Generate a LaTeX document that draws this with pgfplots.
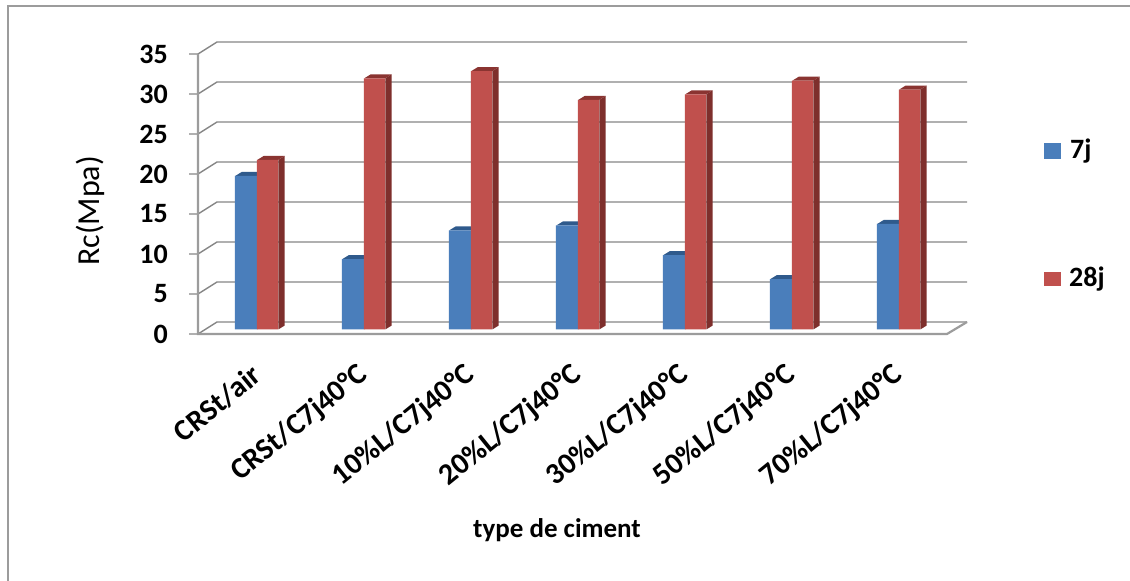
\documentclass[border=0pt]{standalone}
\usepackage{fontspec}
\setmainfont{Carlito}
\usepackage{pgfplots}
\pgfplotsset{compat=1.18}
\usepackage{pgfplotstable}

\definecolor{blueFront}{HTML}{4A7EBB}
\definecolor{blueTop}{HTML}{2F5A8C}
\definecolor{redFront}{HTML}{C0504D}
\definecolor{redSide}{HTML}{7E2F2C}
\definecolor{redTop}{HTML}{8A3431}
\definecolor{gridGrey}{HTML}{868686}
\definecolor{wallGrey}{HTML}{9C9C9C}

% Compressive strength per cement type
\pgfplotstableread{
pos   j7    j28
0.55  19.2  21.2
1.55  8.8   31.4
2.55  12.4  32.3
3.55  13.0  28.7
4.55  9.3   29.4
5.55  6.3   31.1
6.55  13.2  30.0
}\strength

% One horizontal level: tick, slanted run up the side wall, line along the back wall
\newcommand{\gridlevel}[1]{%
  \pgfmathsetmacro{\yfront}{#1-0.5625}%
  \pgfmathsetmacro{\yback}{#1+0.9375}%
  \addplot[gridGrey, line width=1.4pt] coordinates {(-0.084,\yfront) (0,\yfront) (0.1776,\yback) (7.187,\yback)};
}

% Depth faces of a bar: side and top, lying behind the front face
\newcommand{\bardepth}[5]{%
  \pgfmathsetmacro{\xa}{#1}%
  \pgfmathsetmacro{\xb}{#2}%
  \pgfmathsetmacro{\xc}{#2+0.0607}%
  \pgfmathsetmacro{\xd}{#1+0.0607}%
  \pgfmathsetmacro{\vt}{#3}%
  \pgfmathsetmacro{\vu}{#3+0.5}%
  \addplot[fill=#4, draw=none] coordinates {(\xb,0) (\xc,0.5) (\xc,\vu) (\xb,\vt)} -- cycle;
  \addplot[fill=#5, draw=none] coordinates {(\xa,\vt) (\xd,\vu) (\xc,\vu) (\xb,\vt)} -- cycle;
}

\begin{document}
\begin{tikzpicture}
\path[use as bounding box, fill=white] (0,0) rectangle (1130pt,581pt);
\draw[wallGrey, line width=2pt] (7.5pt,0) -- (7.5pt,575pt) -- (1130pt,575pt);

\begin{axis}[
  at={(198pt,251.5pt)}, anchor=south west,
  scale only axis, width=749pt, height=280pt,
  xmin=0, xmax=7, ymin=0, ymax=35,
  clip=false,
  axis line style={draw=none},
  major tick length=0pt,
  xtick={0.55,1.55,2.55,3.55,4.55,5.55,6.55},
  xticklabels={CRSt/air,CRSt/C7j40°C,10\%L/C7j40°C,20\%L/C7j40°C,30\%L/C7j40°C,50\%L/C7j40°C,70\%L/C7j40°C},
  x tick label style={rotate=39, anchor=east, font=\fontsize{30}{32}\selectfont\bfseries, xshift=-26pt, yshift=-32.6pt, inner sep=0pt},
  ytick={0,5,...,35},
  /pgf/number format/assume math mode=true,
  y tick label style={font=\fontsize{28}{30}\selectfont\bfseries, anchor=east, xshift=-30pt, yshift=-4.5pt, inner sep=0pt},
]
% Floor and walls
\gridlevel{0}\gridlevel{5}\gridlevel{10}\gridlevel{15}
\gridlevel{20}\gridlevel{25}\gridlevel{30}\gridlevel{35}
\addplot[wallGrey, line width=2.2pt] coordinates {(0,34.4375) (0,-0.5625) (7,-0.5625) (7.187,0.9375)};

% Depth faces, group by group
\bardepth{0.349}{0.554}{19.2}{blueTop}{blueTop}
\bardepth{0.554}{0.750}{21.2}{redSide}{redTop}
\bardepth{1.349}{1.554}{8.8}{blueTop}{blueTop}
\bardepth{1.554}{1.750}{31.4}{redSide}{redTop}
\bardepth{2.349}{2.554}{12.4}{blueTop}{blueTop}
\bardepth{2.554}{2.750}{32.3}{redSide}{redTop}
\bardepth{3.349}{3.554}{13.0}{blueTop}{blueTop}
\bardepth{3.554}{3.750}{28.7}{redSide}{redTop}
\bardepth{4.349}{4.554}{9.3}{blueTop}{blueTop}
\bardepth{4.554}{4.750}{29.4}{redSide}{redTop}
\bardepth{5.349}{5.554}{6.3}{blueTop}{blueTop}
\bardepth{5.554}{5.750}{31.1}{redSide}{redTop}
\bardepth{6.349}{6.554}{13.2}{blueTop}{blueTop}
\bardepth{6.554}{6.750}{30.0}{redSide}{redTop}

% Front faces
\addplot[ybar, bar width=21.9pt, bar shift=-10.95pt, fill=blueFront, draw=none] table[x=pos, y=j7] {\strength};
\addplot[ybar, bar width=21pt, bar shift=10.5pt, fill=redFront, draw=none] table[x=pos, y=j28] {\strength};
\end{axis}

% Axis titles
\node[rotate=90, font=\fontsize{32}{36}\selectfont] at (90pt,370pt) {Rc(Mpa)};
\node[font=\fontsize{27}{30}\selectfont\bfseries] at (557pt,51pt) {type de ciment};

% Legend
\fill[blueFront] (1044pt,422pt) rectangle (1061pt,438pt);
\node[anchor=west, inner sep=0pt, font=\fontsize{28}{30}\selectfont\bfseries] at (1070pt,430pt) {7j};
\fill[redFront] (1044pt,295pt) rectangle (1061pt,309pt);
\node[anchor=west, inner sep=0pt, font=\fontsize{28}{30}\selectfont\bfseries] at (1069pt,302pt) {28j};
\end{tikzpicture}
\end{document}
